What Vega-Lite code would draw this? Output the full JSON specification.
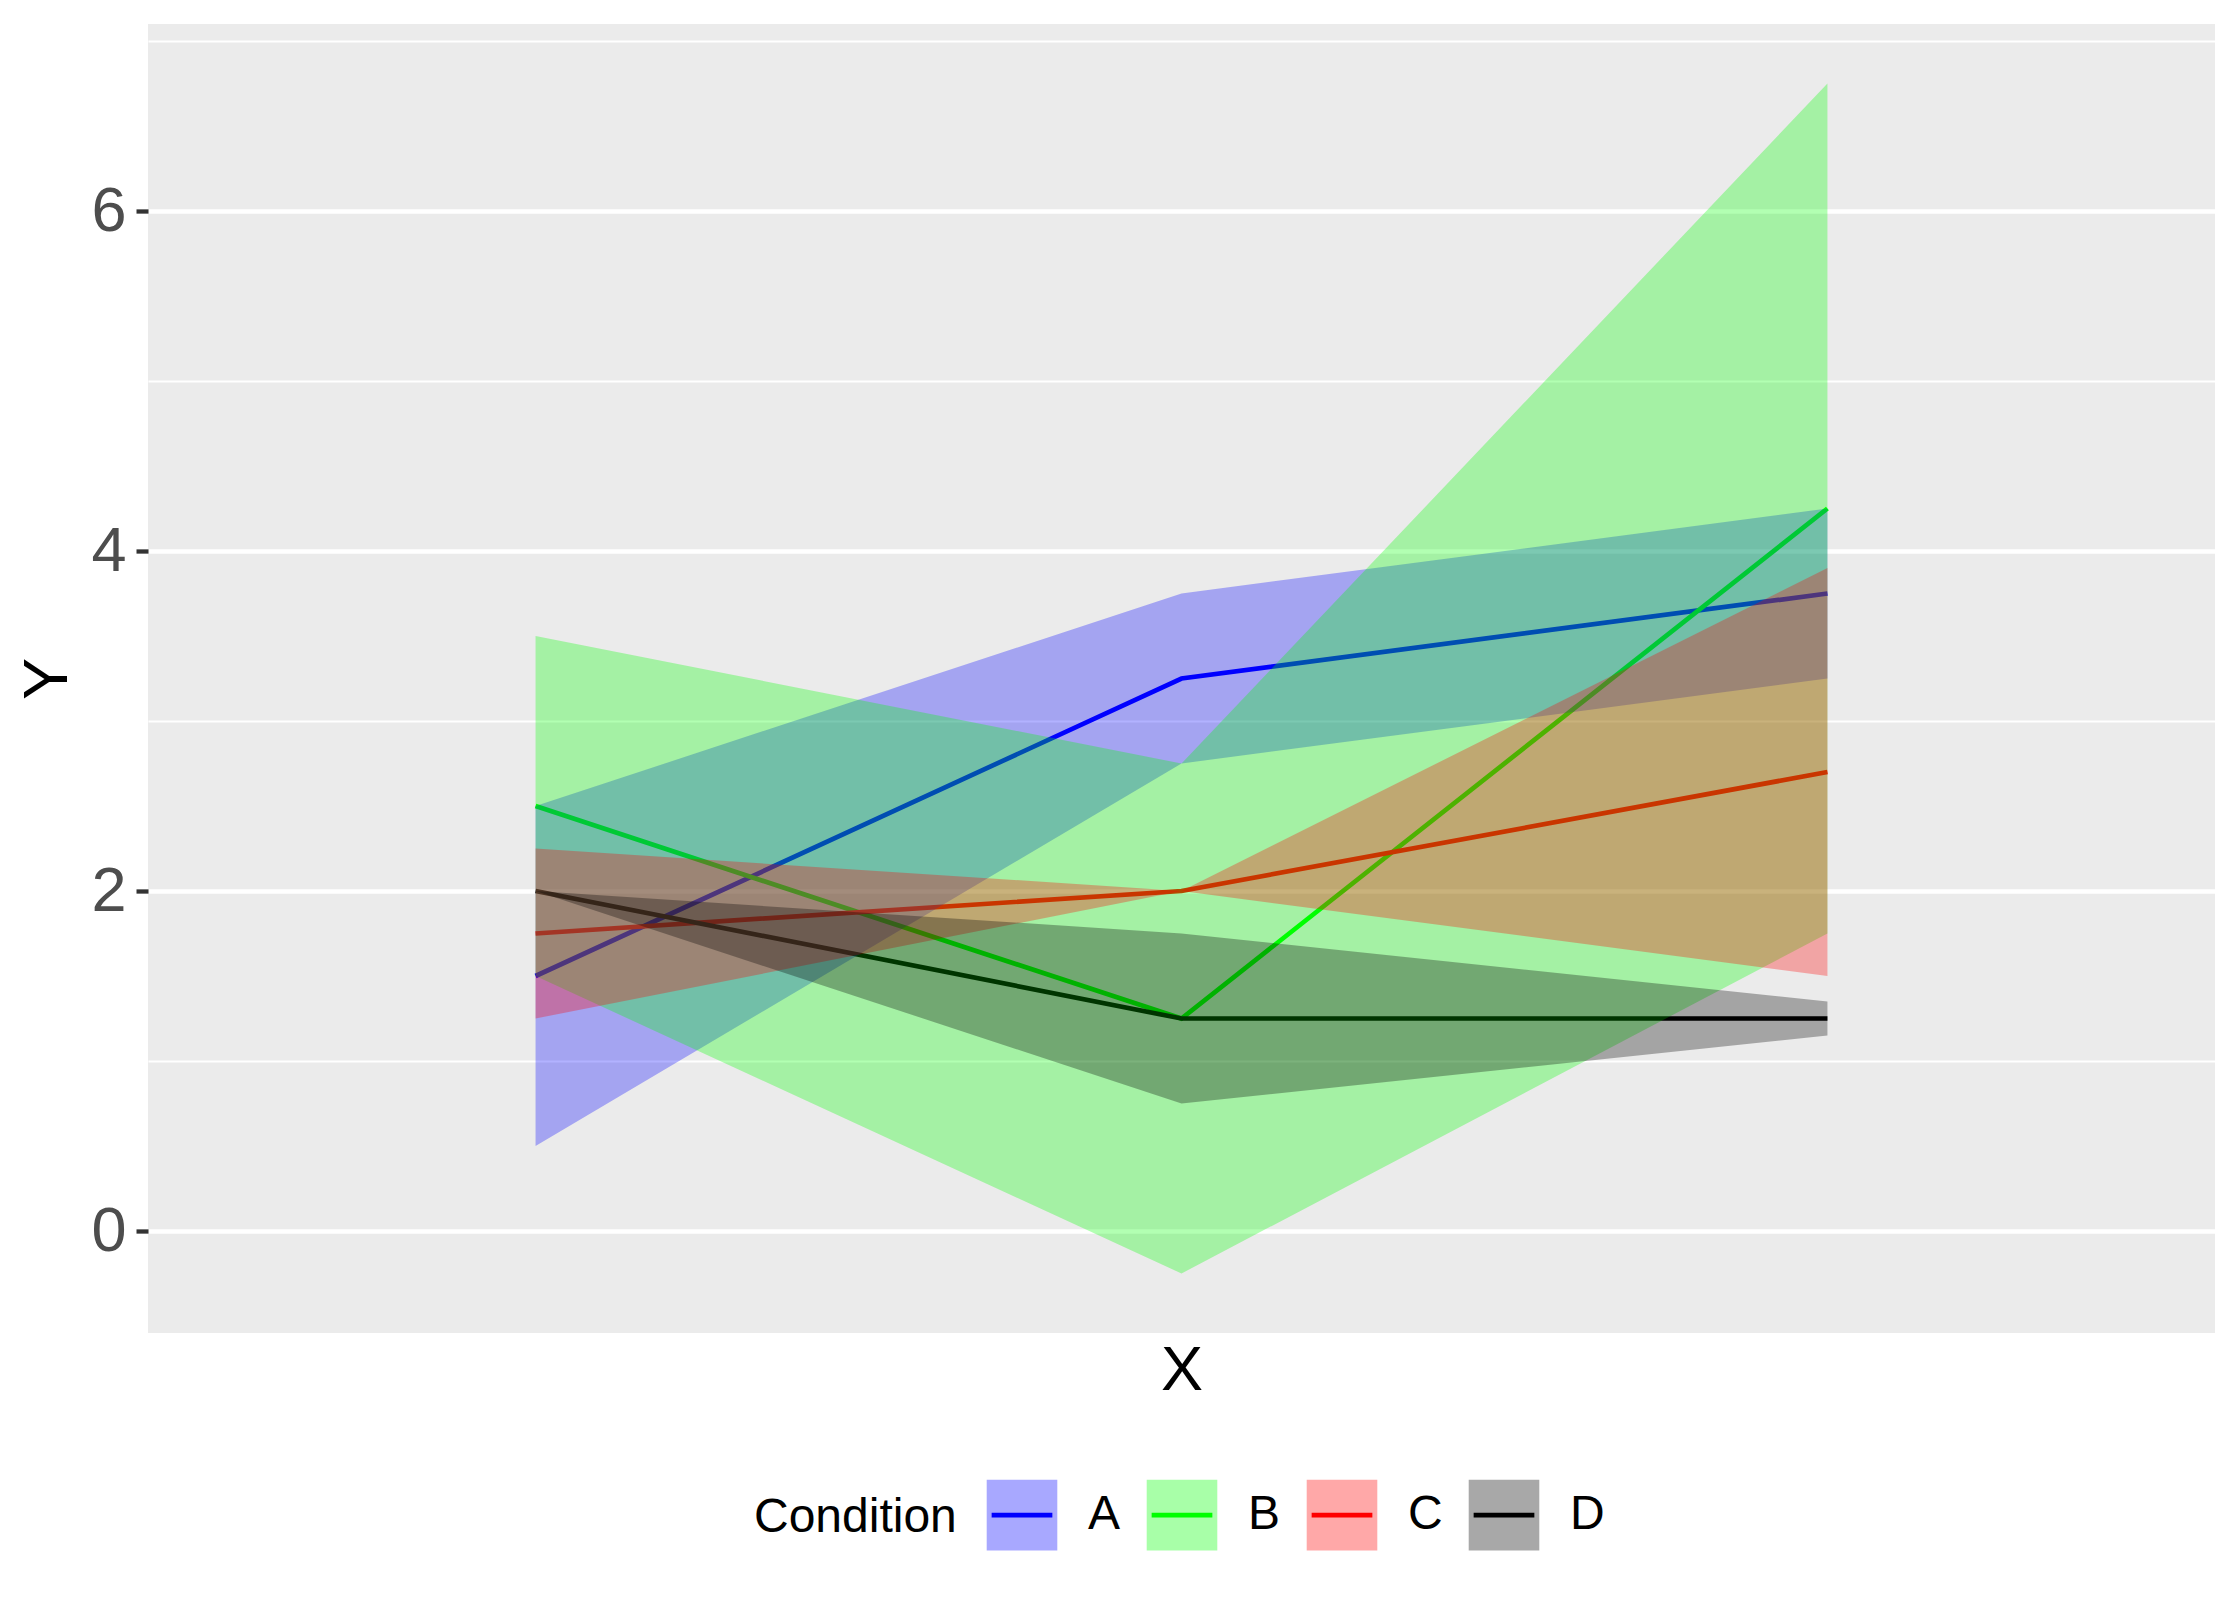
{
  "$schema": "https://vega.github.io/schema/vega-lite/v6.json",
  "width": 2067,
  "height": 1309,
  "autosize": {"type": "none"},
  "padding": {"left": 148, "top": 24, "right": 25, "bottom": 267},
  "background": "white",
  "config": {
    "font": "Liberation Sans",
    "view": {"fill": "#EBEBEB", "stroke": null}
  },
  "data": {
    "values": [
      {"cond": "A", "x": 1, "y": 1.5, "lo": 0.5, "hi": 2.5},
      {"cond": "A", "x": 2, "y": 3.25, "lo": 2.75, "hi": 3.75},
      {"cond": "A", "x": 3, "y": 3.75, "lo": 3.25, "hi": 4.25},
      {"cond": "B", "x": 1, "y": 2.5, "lo": 1.5, "hi": 3.5},
      {"cond": "B", "x": 2, "y": 1.25, "lo": -0.25, "hi": 2.75},
      {"cond": "B", "x": 3, "y": 4.25, "lo": 1.75, "hi": 6.75},
      {"cond": "C", "x": 1, "y": 1.75, "lo": 1.25, "hi": 2.25},
      {"cond": "C", "x": 2, "y": 2.0, "lo": 2.0, "hi": 2.0},
      {"cond": "C", "x": 3, "y": 2.7, "lo": 1.5, "hi": 3.9},
      {"cond": "D", "x": 1, "y": 2.0, "lo": 2.0, "hi": 2.0},
      {"cond": "D", "x": 2, "y": 1.25, "lo": 0.75, "hi": 1.75},
      {"cond": "D", "x": 3, "y": 1.25, "lo": 1.15, "hi": 1.35}
    ]
  },
  "layer": [
    {
      "mark": {"type": "line", "strokeWidth": 4.7},
      "encoding": {
        "x": {
          "field": "x", "type": "quantitative",
          "scale": {"domain": [0.4, 3.6], "nice": false, "zero": false},
          "axis": {"labels": false, "ticks": false, "domain": false, "grid": false, "title": "X", "titleFontSize": 63, "titleFontWeight": "normal", "titleColor": "#000000", "titlePadding": 6}
        },
        "y": {
          "field": "y", "type": "quantitative",
          "scale": {"domain": [-0.6, 7.1], "nice": false, "zero": false},
          "axis": {"orient": "left", "values": [1, 3, 5, 7], "labels": false, "ticks": false, "domain": false, "title": null, "grid": true, "gridColor": "#FFFFFF", "gridWidth": 2.15, "gridOpacity": 1}
        },
        "stroke": {
          "field": "cond", "type": "nominal",
          "scale": {"range": ["#0000FF", "#00FF00", "#FF0000", "#000000"]},
          "legend": {
            "orient": "none", "legendX": 606, "legendY": 1453, "direction": "horizontal",
            "title": "Condition", "titleOrient": "left", "titleAnchor": "middle", "titleBaseline": "middle", "titleLimit": 0,
            "titleFontSize": 48, "titleFontWeight": "normal", "titleColor": "#000000", "titleOpacity": 0, "titlePadding": 27,
            "labelFontSize": 48, "labelColor": "#000000", "labelOpacity": 0, "labelOffset": 28,
            "columnPadding": 16, "padding": 0,
            "symbolType": "M-1,-1M1,1M-0.86,0H0.86", "symbolSize": 4984, "symbolStrokeWidth": 4.7,
            "symbolFillColor": "transparent",
            "encode": {"symbols": {"update": {"fill": {"value": "transparent"}, "strokeWidth": {"value": 4.7}, "opacity": {"value": 1}}}}
          }
        }
      }
    },
    {
      "mark": {"type": "area", "fillOpacity": 0.3, "strokeWidth": 0},
      "encoding": {
        "x": {
          "field": "x", "type": "quantitative",
          "scale": {"domain": [0.4, 3.6], "nice": false, "zero": false},
          "axis": {"labels": false, "ticks": false, "domain": false, "grid": false, "title": "X", "titleFontSize": 63, "titleFontWeight": "normal", "titleColor": "#000000", "titlePadding": 6}
        },
        "y": {
          "field": "lo", "type": "quantitative",
          "scale": {"domain": [-0.6, 7.1], "nice": false, "zero": false},
          "axis": {
            "orient": "left", "values": [0, 2, 4, 6], "format": "d", "domain": false,
            "grid": true, "gridColor": "#FFFFFF", "gridWidth": 4.3, "gridOpacity": 1,
            "ticks": true, "tickSize": 12, "tickWidth": 4.3, "tickColor": "#333333",
            "labelFontSize": 63, "labelColor": "#4D4D4D", "labelPadding": 10,
            "title": "Y", "titleFontSize": 63, "titleFontWeight": "normal", "titleColor": "#000000", "titlePadding": 11
          }
        },
        "y2": {"field": "hi"},
        "fill": {
          "field": "cond", "type": "nominal",
          "scale": {"domain": ["A", "B", "C", "D"], "range": ["#0000FF", "#00FF00", "#FF0000", "#000000"]},
          "legend": {
            "orient": "none", "legendX": 606, "legendY": 1453, "direction": "horizontal",
            "title": "Condition", "titleOrient": "left", "titleAnchor": "middle", "titleBaseline": "middle", "titleLimit": 0,
            "titleFontSize": 48, "titleFontWeight": "normal", "titleColor": "#000000", "titlePadding": 27,
            "labelFontSize": 48, "labelColor": "#000000", "labelOffset": 28,
            "columnPadding": 16, "padding": 0,
            "symbolType": "square", "symbolSize": 4984, "symbolStrokeWidth": 4.7, "symbolStrokeColor": "transparent",
            "encode": {"symbols": {"update": {"fillOpacity": {"value": 0.34}, "stroke": {"value": "transparent"}, "strokeWidth": {"value": 4.7}, "opacity": {"value": 1}}}}
          }
        }
      }
    }
  ],
  "resolve": {"axis": {"y": "independent"}}
}
